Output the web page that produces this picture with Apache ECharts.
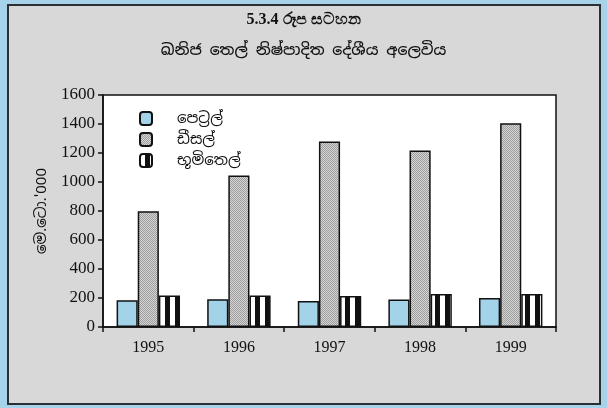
<!DOCTYPE html>
<html>
<head>
<meta charset="utf-8">
<script src="https://cdn.jsdelivr.net/npm/echarts@6/dist/echarts.min.js"></script>
<style>
  html, body { margin: 0; padding: 0; }
  #main { width: 607px; height: 408px; }
</style>
</head>
<body>
<div id="main"></div>
<script>
// 数据
var years = ['1995', '1996', '1997', '1998', '1999'];
var petrol = [184, 191, 179, 189, 200];
var diesel = [798, 1044, 1280, 1218, 1405];
var kerosene = [218, 218, 214, 228, 228];
var seriesNames = ['පෙට්‍රල්', 'ඩීසල්', 'භූමිතෙල්'];

var serifFont = "'Liberation Serif', 'DejaVu Serif', serif";
var sinhalaFont = "'Noto Sans Sinhala', 'Noto Serif Sinhala', 'Iskoola Pota', 'Liberation Serif', serif";

// 花纹
function makeStripes() {
  var c = document.createElement('canvas');
  c.width = 10; c.height = 10;
  var ctx = c.getContext('2d');
  ctx.fillStyle = '#ffffff';
  ctx.fillRect(0, 0, 10, 10);
  ctx.fillStyle = '#111111';
  ctx.fillRect(5, 0, 5, 10);
  return c;
}
function makeStipple() {
  var c = document.createElement('canvas');
  c.width = 2; c.height = 2;
  var ctx = c.getContext('2d');
  ctx.fillStyle = '#d6d6d6';
  ctx.fillRect(0, 0, 2, 2);
  ctx.fillStyle = '#9c9c9c';
  ctx.fillRect(0, 0, 1, 1);
  ctx.fillRect(1, 1, 1, 1);
  return c;
}

(function(){
  var myChart = echarts.init(document.getElementById('main'));
  var option = {
    backgroundColor: '#a6d3e9',
    animation: false,
    graphic: [
      {
        type: 'rect',
        shape: { x: 8, y: 5, width: 592, height: 399 },
        style: { fill: '#d8d8d8', stroke: '#2a2f33', lineWidth: 2 },
        z: -10
      },
      {
        type: 'text',
        left: 'center',
        top: 12,
        style: { text: '5.3.4 රූප සටහන', font: 'bold 16px ' + serifFont, fill: '#111' }
      },
      {
        type: 'text',
        left: 'center',
        top: 43,
        style: { text: 'ඛනිජ තෙල් නිෂ්පාදිත දේශීය අලෙවිය', font: '500 15.5px ' + sinhalaFont, fill: '#111' }
      }
    ],
    legend: {
      data: seriesNames,
      orient: 'vertical',
      left: 134,
      top: 106,
      itemWidth: 12,
      itemHeight: 13,
      itemGap: 6,
      textStyle: { fontFamily: sinhalaFont, fontSize: 15, color: '#111', padding: [0, 0, 0, 20] }
    },
    grid: {
      left: 103,
      right: 51,
      top: 95,
      bottom: 81,
      show: true,
      backgroundColor: '#ffffff',
      borderColor: '#111',
      borderWidth: 1.5
    },
    xAxis: {
      type: 'category',
      data: years,
      axisLine: { lineStyle: { color: '#111', width: 1.5 } },
      axisTick: { show: true, length: 5, lineStyle: { color: '#111', width: 1.5 } },
      axisLabel: { color: '#111', fontFamily: serifFont, fontSize: 16, margin: 13 }
    },
    yAxis: {
      type: 'value',
      min: 0,
      max: 1600,
      interval: 200,
      name: "මෙ.ටො.'000",
      nameLocation: 'middle',
      nameGap: 54,
      nameTextStyle: { fontFamily: sinhalaFont, fontSize: 15, color: '#111' },
      splitLine: { show: false },
      axisLine: { show: true, lineStyle: { color: '#111', width: 1.5 } },
      axisTick: { show: true, length: 5, lineStyle: { color: '#111', width: 1.5 } },
      axisLabel: {
        color: '#111', fontFamily: serifFont, fontSize: 17, margin: 8,
        formatter: function (v) { return String(v); }
      }
    },
    series: [
      {
        name: seriesNames[0],
        type: 'bar',
        barGap: '0%',
        barCategoryGap: '30%',
        itemStyle: { color: '#a3d3e8', borderColor: '#111', borderWidth: 1.5 },
        data: petrol
      },
      {
        name: seriesNames[1],
        type: 'bar',
        barGap: '0%',
        barCategoryGap: '30%',
        itemStyle: { color: { image: makeStipple(), repeat: 'repeat' }, borderColor: '#111', borderWidth: 1.5 },
        data: diesel
      },
      {
        name: seriesNames[2],
        type: 'bar',
        barGap: '0%',
        barCategoryGap: '30%',
        itemStyle: { color: { image: makeStripes(), repeat: 'repeat' }, borderColor: '#111', borderWidth: 1.5 },
        data: kerosene
      }
    ]
  };
  myChart.setOption(option);
  window.addEventListener('resize', function(){
    myChart.resize();
  });
})();
</script>
</body>
</html>
